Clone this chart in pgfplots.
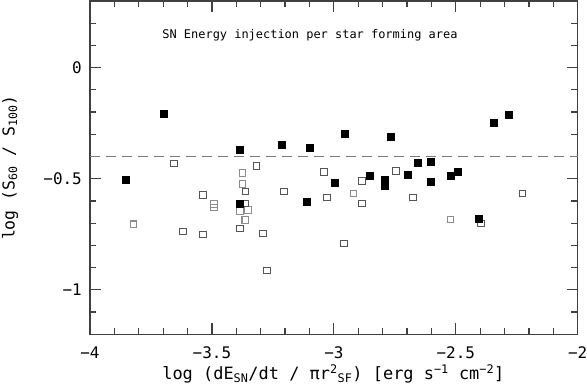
\documentclass[border=0pt]{standalone}
\usepackage{fontspec}
\setmainfont{DejaVu Sans Mono}
\usepackage{pgfplots}
\pgfplotsset{compat=1.18}
\definecolor{axisgray}{HTML}{404040}
\definecolor{opendark}{HTML}{555555}
\definecolor{openlight}{HTML}{8C8C8C}
\definecolor{dashgray}{HTML}{7A7A7A}

\pgfplotstableread{
x y
-3.852 -0.506
-3.696 -0.207
-3.385 -0.367
-3.213 -0.348
-3.385 -0.611
-3.101 -0.361
-2.957 -0.295
-2.768 -0.312
-2.998 -0.516
-2.853 -0.484
-2.793 -0.503
-2.793 -0.530
-3.110 -0.605
-2.282 -0.213
-2.344 -0.249
-2.656 -0.428
-2.601 -0.425
-2.697 -0.482
-2.601 -0.515
-2.522 -0.487
-2.493 -0.466
-2.407 -0.680
}\filled

\pgfplotstableread{
x y
-3.655 -0.431
-3.536 -0.573
-3.619 -0.738
-3.536 -0.750
-3.317 -0.442
-3.363 -0.558
-3.205 -0.558
-3.363 -0.611
-3.385 -0.723
-3.291 -0.746
-3.275 -0.913
-3.040 -0.469
-2.884 -0.509
-2.745 -0.464
-3.029 -0.585
-2.884 -0.612
-2.959 -0.792
-2.675 -0.585
-2.226 -0.567
-2.396 -0.702
}\opendark

\pgfplotstableread{
x y
-3.822 -0.705
-3.375 -0.473
-3.375 -0.524
-3.491 -0.614
-3.491 -0.629
-3.385 -0.645
-3.352 -0.641
-3.363 -0.686
-2.919 -0.566
-2.522 -0.684
}\openlight

\begin{document}
\begin{tikzpicture}
\begin{axis}[
    scale only axis,
    width=487.7bp,
    height=333.3bp,
    xmin=-4, xmax=-2,
    ymin=-1.2, ymax=0.3,
    axis line style={axisgray, line width=1.3bp},
    every tick/.style={axisgray, line width=1.2bp},
    major tick length=11bp,
    minor tick length=6.5bp,
    xtick={-4,-3.5,-3,-2.5,-2},
    xticklabels={−4,−3.5,−3,−2.5,−2},
    ytick={-1,-0.5,0},
    yticklabels={−1,−0.5,0},
    minor xtick={-3.9,-3.8,-3.7,-3.6,-3.4,-3.3,-3.2,-3.1,-2.9,-2.8,-2.7,-2.6,-2.4,-2.3,-2.2,-2.1},
    minor ytick={-1.1,-0.9,-0.8,-0.7,-0.6,-0.4,-0.3,-0.2,-0.1,0.1,0.2},
    tick pos=both,
    tick label style={font=\fontsize{16}{18}\selectfont, inner sep=0pt},
    xticklabel style={anchor=north, yshift=-12bp},
    yticklabel style={anchor=east, xshift=-8bp},
    label style={font=\fontsize{17}{19}\selectfont, inner sep=0pt},
    xlabel={log (dE\textsubscript{SN}/dt / πr\textsuperscript{2}\textsubscript{SF}) [erg s\textsuperscript{−1} cm\textsuperscript{−2}]},
    ylabel={log (S\textsubscript{60} / S\textsubscript{100})},
    xlabel style={at={(axis description cs:0.499,-0.119)}, anchor=center},
    ylabel style={at={(axis description cs:-0.164,0.5)}, anchor=center, rotate=0, font=\fontsize{16.5}{18}\selectfont},
    clip=false,
]
\coordinate (SW) at (rel axis cs:0,0);
\coordinate (NE) at (rel axis cs:1,1);
\addplot[dashgray, dash pattern=on 10bp off 6bp, line width=0.9bp] coordinates {(-4,-0.4) (-2,-0.4)};
\addplot[only marks, mark=square, mark size=3.3bp, mark options={draw=openlight, fill=white, line width=1.1bp}] table {\openlight};
\addplot[only marks, mark=square, mark size=3.3bp, mark options={draw=opendark, fill=white, line width=1bp}] table {\opendark};
\addplot[only marks, mark=square*, mark size=3.5bp, mark options={draw=black, fill=black, line width=0.3bp}] table {\filled};
\node[anchor=west, inner sep=0pt, font=\fontsize{12}{14}\selectfont] at (axis cs:-3.704,0.145) {SN Energy injection per star forming area};
\end{axis}
\pgfresetboundingbox
\path ([shift={(-90bp,-51.7bp)}]SW) rectangle ([shift={(9.3bp,1bp)}]NE);
\end{tikzpicture}
\end{document}
